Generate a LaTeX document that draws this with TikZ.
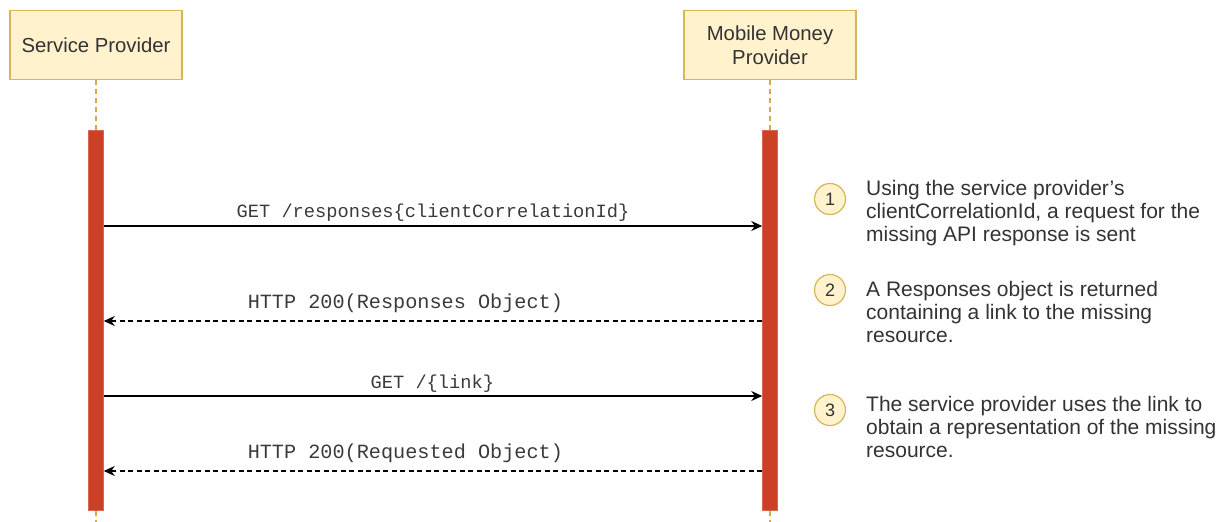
\documentclass[tikz,border=0pt]{standalone}
\usepackage{fontspec}
\setmainfont{Liberation Sans}
\newfontfamily\monofont{Liberation Mono}
\usetikzlibrary{arrows.meta}
\definecolor{boxfill}{HTML}{FFF2CC}
\definecolor{boxline}{HTML}{D6B656}
\definecolor{lifeline}{HTML}{DDA64A}
\definecolor{barfill}{HTML}{CC4125}
\definecolor{txt}{HTML}{333333}
\definecolor{monotxt}{HTML}{3A3A3A}
\tikzset{
  actor/.style={draw=boxline, fill=boxfill, line width=1.2pt, minimum width=172pt, minimum height=69pt, align=center, text=txt, font=\fontsize{20.3}{24}\selectfont, inner sep=0pt},
  actbar/.style={fill=barfill, draw=barfill!80!white, line width=0.5pt, minimum width=15pt, minimum height=380pt, inner sep=0pt},
  lifedash/.style={draw=lifeline, line width=1.2pt, dash pattern=on 5pt off 4pt},
  msg/.style={draw=black, line width=1.4pt, -{Stealth[length=11pt,width=10pt]}},
  ret/.style={msg, dash pattern=on 5pt off 3.5pt},
  msglabel/.style={font=\monofont\fontsize{18.7}{22}\selectfont, text=monotxt, inner sep=0pt},
  retlabel/.style={font=\monofont\fontsize{20.2}{24}\selectfont, text=monotxt, inner sep=0pt},
  stepcircle/.style={circle, draw=boxline, fill=boxfill, line width=1.2pt, minimum size=31pt, inner sep=0pt, font=\fontsize{18}{20}\selectfont, text=txt},
  note/.style={align=left, anchor=north west, inner sep=0pt, text=txt, font=\fontsize{21}{23.2}\selectfont}
}
\begin{document}
\begin{tikzpicture}[x=1pt,y=-1pt]
\useasboundingbox (0,0) rectangle (1218,522);
% actors
\node[actor] (sp) at (96,45) {Service Provider};
\node[actor] (mmp) at (770,45) {Mobile Money\\Provider};
% activation bars
\node[actbar, anchor=north] (sbar) at (96,130) {};
\node[actbar, anchor=north] (mbar) at (770,130) {};
% lifelines
\coordinate (send) at (96,522);
\coordinate (mend) at (770,522);
\draw[lifedash] (sp.south) -- (sbar.north);
\draw[lifedash] (mmp.south) -- (mbar.north);
\draw[lifedash] (sbar.south) -- (send);
\draw[lifedash] (mbar.south) -- (mend);
% messages
\draw[msg] (sbar.east |- 0,226) -- node[msglabel, pos=0.5, above=4pt] {GET /responses\{clientCorrelationId\}} (mbar.west |- 0,226);
\draw[ret] (mbar.west |- 0,321) -- node[retlabel, pos=0.542, above=8pt] {HTTP 200(Responses Object)} (sbar.east |- 0,321);
\draw[msg] (sbar.east |- 0,396) -- node[msglabel, pos=0.499, above=3pt] {GET /\{link\}} (mbar.west |- 0,396);
\draw[ret] (mbar.west |- 0,471) -- node[retlabel, pos=0.542, above=8pt] {HTTP 200(Requested Object)} (sbar.east |- 0,471);
% steps
\node[stepcircle] (c1) at (830,199) {1};
\node[stepcircle] (c2) at (830,290) {2};
\node[stepcircle] (c3) at (830,410) {3};
\node[note] (n1) at (866,180) {Using the service provider's\\clientCorrelationId, a request for the\\missing API response is sent};
\node[note] (n2) at (866,281) {A Responses object is returned\\containing a link to the missing\\resource.};
\node[note] (n3) at (866,396) {The service provider uses the link to\\obtain a representation of the missing\\resource.};
\end{tikzpicture}
\end{document}
